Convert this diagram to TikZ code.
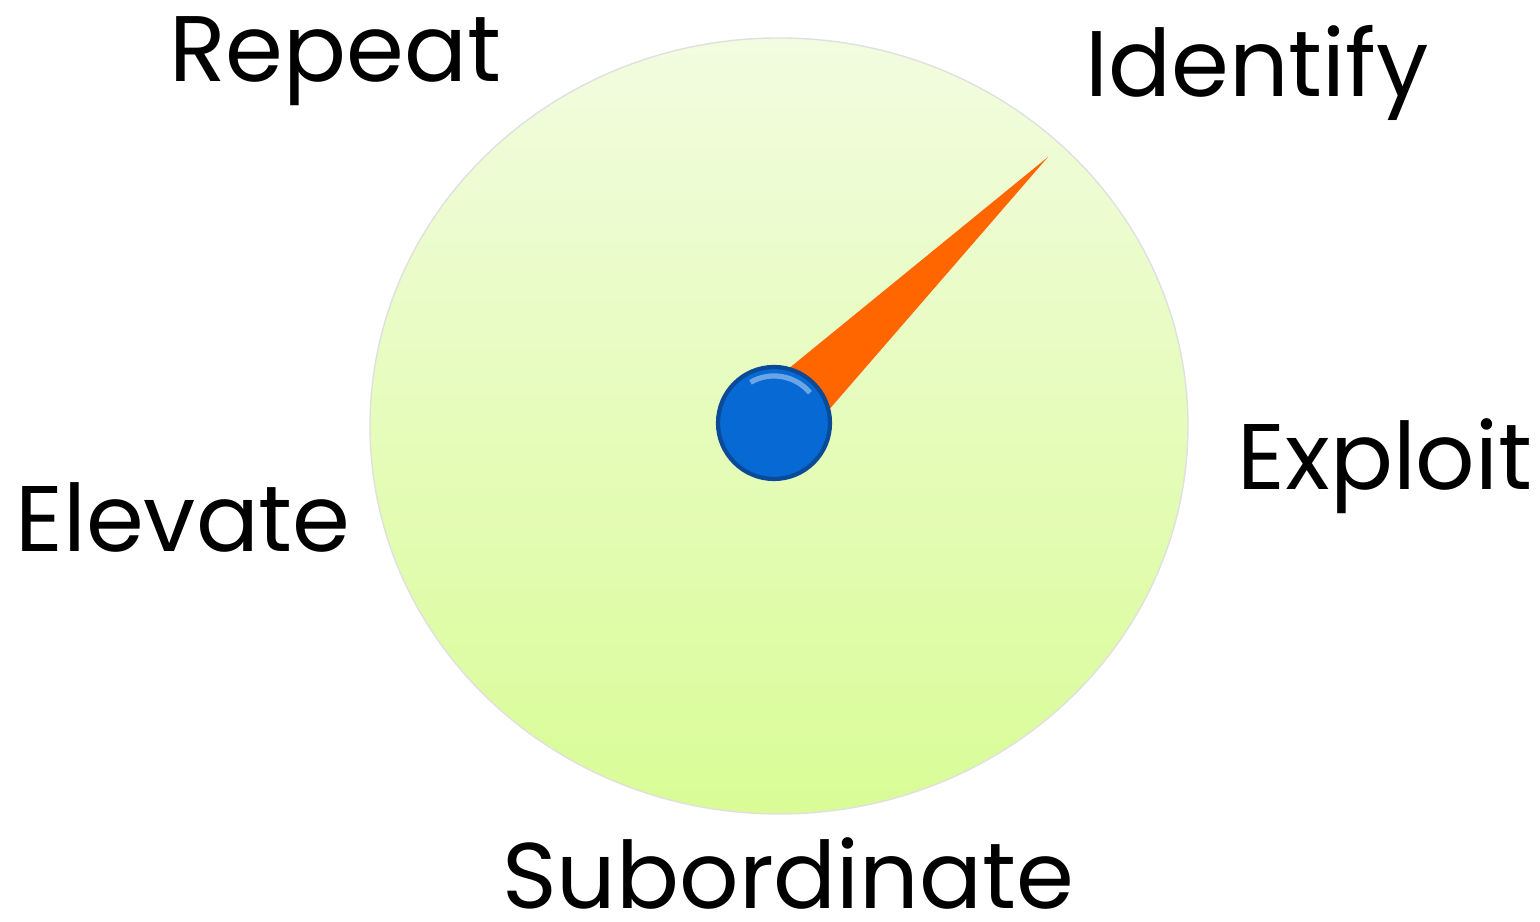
\documentclass[tikz,border=0pt]{standalone}
\usepackage{fontspec}
\setmainfont{Poppins}
\usepackage{tikz}
\usetikzlibrary{arrows.meta,shapes.geometric,calc}
\definecolor{dialtop}{HTML}{F2FCE0}
\definecolor{dialbot}{HTML}{D9FC96}
\definecolor{needle}{HTML}{FF6600}
\definecolor{knob}{HTML}{0769D4}
\definecolor{knobedge}{HTML}{0A4A96}
\tikzset{
  dial/.style={ellipse, minimum width=8.18cm, minimum height=7.76cm, inner sep=0pt,
               top color=dialtop, bottom color=dialbot, draw=black!12, thin},
  knobby/.style={circle, minimum size=1.12cm, inner sep=0pt, fill=knob,
                 draw=knobedge, line width=1.2pt},
  lbl/.style={font=\fontsize{26.5}{28}\selectfont, anchor=base, inner sep=0pt},
}
\begin{document}
\begin{tikzpicture}
  \useasboundingbox (0,0) rectangle (15.4,9.22);
  \node[dial] (face) at (7.79,4.96) {};
  \coordinate (hub) at (7.74,4.99);
  \coordinate (tip) at (10.48,7.65);
  % needle: thin triangle from the hub to the tip
  \fill[needle] ($(hub)!0.33cm!90:(tip)$) -- (tip) -- ($(hub)!0.33cm!-90:(tip)$) -- cycle;
  \node[knobby] (knob) at (hub) {};
  \draw[white!40!knob, line width=1.5pt] ($(knob.center)+(120:0.47)$) arc (120:40:0.47);
  \node[lbl] (repeat)   at (3.35,8.40) {Repeat};
  \node[lbl] (identify) at (12.57,8.25) {Identify};
  \node[lbl] (exploit)  at (13.85,4.32) {Exploit};
  \node[lbl] (elevate)  at (1.83,3.70) {Elevate};
  \node[lbl] (subord)   at (7.88,0.13) {Subordinate};
\end{tikzpicture}
\end{document}
